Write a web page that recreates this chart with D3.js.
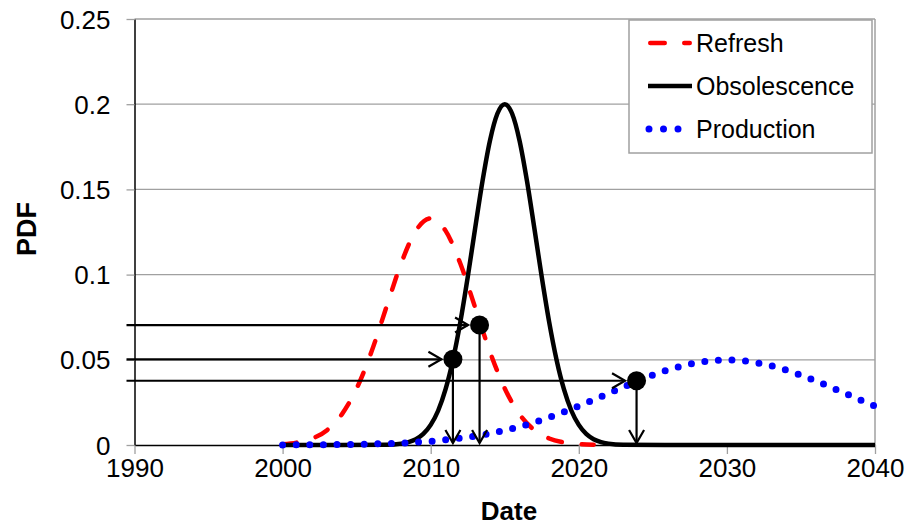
<!DOCTYPE html>
<html>
<head>
<meta charset="utf-8">
<script src="https://cdn.jsdelivr.net/npm/d3@7"></script>
<style>
  body { margin: 0; background: #fff; }
  svg { font-family: "Liberation Sans", Arial, sans-serif; }
</style>
</head>
<body>
<svg id="chart"></svg>
<script>
// ---- data ----
const xTicks = [1990, 2000, 2010, 2020, 2030, 2040];
const yTicks = [0, 0.05, 0.1, 0.15, 0.2, 0.25];

const refreshYears = [2000, 2001, 2002, 2003, 2004, 2005, 2006, 2007, 2008, 2009, 2010,
  2011, 2012, 2013, 2014, 2015, 2016, 2017, 2018, 2019, 2020, 2021];
const refreshPdf = [0.0005, 0.0015, 0.0038, 0.0087, 0.0180, 0.0332, 0.0547, 0.0807, 0.1065, 0.1258, 0.1330,
  0.1258, 0.1065, 0.0807, 0.0547, 0.0332, 0.0180, 0.0087, 0.0038, 0.0015, 0.0005, 0.0002];

const obsYears = [2000, 2004, 2007, 2008, 2008.5, 2009, 2009.5, 2010, 2010.5, 2011, 2011.5, 2012, 2012.5,
  2013, 2013.5, 2014, 2014.5, 2015, 2015.5, 2016, 2016.5, 2017, 2017.5, 2018, 2018.5,
  2019, 2019.5, 2020, 2020.5, 2021, 2021.5, 2022, 2023, 2026, 2030, 2035, 2040];
const obsPdf = [0, 0, 0.0001, 0.0008, 0.0017, 0.0034, 0.0065, 0.0118, 0.0201, 0.0326, 0.0499, 0.0721, 0.0985,
  0.1271, 0.1550, 0.1786, 0.1944, 0.2000, 0.1944, 0.1786, 0.1550, 0.1271, 0.0985, 0.0721, 0.0499,
  0.0326, 0.0201, 0.0118, 0.0065, 0.0034, 0.0017, 0.0008, 0.0001, 0, 0, 0, 0];

const prodYears = [2000, 2001, 2002, 2003, 2004, 2005, 2006, 2007, 2008, 2009, 2010,
  2011, 2012, 2013, 2014, 2015, 2016, 2017, 2018, 2019, 2020,
  2021, 2022, 2023, 2024, 2025, 2026, 2027, 2028, 2029, 2030,
  2031, 2032, 2033, 2034, 2035, 2036, 2037, 2038, 2039, 2040];
const prodPdf = [0.0000, 0.0001, 0.0001, 0.0002, 0.0003, 0.0004, 0.0006, 0.0008, 0.0011, 0.0016, 0.0022,
  0.0030, 0.0040, 0.0052, 0.0067, 0.0086, 0.0108, 0.0133, 0.0162, 0.0194, 0.0228,
  0.0265, 0.0302, 0.0340, 0.0376, 0.0410, 0.0440, 0.0465, 0.0483, 0.0495, 0.0499,
  0.0495, 0.0483, 0.0465, 0.0440, 0.0410, 0.0376, 0.0340, 0.0302, 0.0265, 0.0228];

// marked points with arrows to the axes
const pointDates = [2011.5, 2013.3, 2023.9];
const pointPdf = [0.0503, 0.0704, 0.0377];

const seriesNames = ['Refresh', 'Obsolescence', 'Production'];

// ---- layout ----
const width = 907, height = 527;
const margin = {top: 19, right: 32, bottom: 82, left: 134.5};
const innerW = width - margin.left - margin.right;
const innerH = height - margin.top - margin.bottom;

const svg = d3.select('#chart').attr('width', width).attr('height', height);
const chart = svg.append('g').attr('transform', `translate(${margin.left},${margin.top})`);

const x = d3.scaleLinear().domain([1990, 2040]).range([0, innerW]);
const y = d3.scaleLinear().domain([0, 0.25]).range([innerH, 0]);

// gridlines
chart.selectAll('.grid')
  .data(yTicks.filter(d => d > 0))
  .join('line')
  .attr('x1', 0).attr('x2', innerW)
  .attr('y1', d => y(d)).attr('y2', d => y(d))
  .attr('stroke', '#a0a0a0').attr('stroke-width', 1.3);

// right border
chart.append('line')
  .attr('x1', innerW).attr('x2', innerW).attr('y1', 0).attr('y2', innerH)
  .attr('stroke', '#a0a0a0').attr('stroke-width', 1.5);

// axes
const xAxis = d3.axisBottom(x).tickValues(xTicks).tickFormat(d3.format('d'))
  .tickSizeInner(9).tickSizeOuter(0).tickPadding(5);
const yAxis = d3.axisLeft(y).tickValues(yTicks).tickFormat(d => d === 0 ? '0' : String(d))
  .tickSizeInner(8).tickSizeOuter(0).tickPadding(16);

const xAxisG = chart.append('g').attr('transform', `translate(0,${innerH})`).call(xAxis);
const yAxisG = chart.append('g').call(yAxis);
[xAxisG, yAxisG].forEach(g => {
  g.attr('font-size', null).attr('font-family', null);
  g.select('.domain').attr('stroke', '#000').attr('stroke-width', 1.5);
  g.selectAll('.tick line').attr('stroke', '#a0a0a0').attr('stroke-width', 1.3);
  g.selectAll('.tick text').attr('fill', '#000').style('font-size', '26px');
});
yAxisG.selectAll('.tick text').attr('dy', '0.35em');

// axis titles
svg.append('text')
  .attr('x', 509).attr('y', 520)
  .attr('text-anchor', 'middle')
  .style('font-size', '26px').style('font-weight', 'bold')
  .text('Date');
svg.append('text')
  .attr('transform', 'translate(36,229) rotate(-90)')
  .attr('text-anchor', 'middle')
  .style('font-size', '27px').style('font-weight', 'bold')
  .text('PDF');

// curves
const toPoints = (xs, ys) => xs.map((d, i) => ({date: d, pdf: ys[i]}));
const line = d3.line().x(d => x(d.date)).y(d => y(d.pdf)).curve(d3.curveMonotoneX);

const seriesStyle = [
  {color: '#ff0000', width: 4.5, dash: '14 20', cap: 'round'},
  {color: '#000000', width: 4.5, dash: null, cap: 'butt'},
  {color: '#0000ff', width: 7, dash: '0 13.6', cap: 'round'}
];
const seriesData = [
  toPoints(refreshYears, refreshPdf),
  toPoints(obsYears, obsPdf),
  toPoints(prodYears, prodPdf)
];

seriesData.forEach((data, i) => {
  const s = seriesStyle[i];
  chart.append('path')
    .datum(data)
    .attr('d', line)
    .attr('fill', 'none')
    .attr('stroke', s.color)
    .attr('stroke-width', s.width)
    .attr('stroke-linecap', s.cap)
    .attr('stroke-dasharray', s.dash);
});

// arrow marker (open V)
const defs = svg.append('defs');
defs.append('marker')
  .attr('id', 'arrow')
  .attr('markerUnits', 'userSpaceOnUse')
  .attr('viewBox', '-15 -9 18 18')
  .attr('refX', 0).attr('refY', 0)
  .attr('markerWidth', 18).attr('markerHeight', 18)
  .attr('orient', 'auto')
  .append('path')
  .attr('d', 'M-13,-7.5 L0,0 L-13,7.5')
  .attr('fill', 'none').attr('stroke', '#000').attr('stroke-width', 2.2);

const pts = pointDates.map((d, i) => ({date: d, pdf: pointPdf[i]}));

// horizontal arrows from the y axis
chart.selectAll('.harrow')
  .data(pts)
  .join('line')
  .attr('x1', -8)
  .attr('x2', d => x(d.date) - 11.5)
  .attr('y1', d => y(d.pdf)).attr('y2', d => y(d.pdf))
  .attr('stroke', '#000').attr('stroke-width', 2.2)
  .attr('marker-end', 'url(#arrow)');

// vertical arrows down to the x axis
chart.selectAll('.varrow')
  .data(pts)
  .join('line')
  .attr('x1', d => x(d.date)).attr('x2', d => x(d.date))
  .attr('y1', d => y(d.pdf))
  .attr('y2', innerH - 2)
  .attr('stroke', '#000').attr('stroke-width', 2.2)
  .attr('marker-end', 'url(#arrow)');

chart.selectAll('.dot')
  .data(pts)
  .join('circle')
  .attr('cx', d => x(d.date)).attr('cy', d => y(d.pdf))
  .attr('r', 9.5)
  .attr('fill', '#000');

// legend
const legend = svg.append('g').attr('transform', 'translate(629,20)');
legend.append('rect')
  .attr('width', 243).attr('height', 133)
  .attr('fill', '#fff').attr('stroke', '#a0a0a0').attr('stroke-width', 1.5);
seriesNames.forEach((name, i) => {
  const s = seriesStyle[i];
  const ly = 23 + i * 43;
  const g = legend.append('g').attr('transform', `translate(0,${ly})`);
  let lx1 = 19, lx2 = 63, dash = s.dash;
  if (i === 0) { lx1 = 21.25; lx2 = 60.75; dash = '14.5 19.5'; }
  if (i === 2) { lx1 = 20; lx2 = 56; dash = '0 14.5'; }
  g.append('line')
    .attr('x1', lx1).attr('x2', lx2).attr('y1', 0).attr('y2', 0)
    .attr('stroke', s.color)
    .attr('stroke-width', i === 2 ? 7 : 4.5)
    .attr('stroke-linecap', s.cap)
    .attr('stroke-dasharray', dash);
  g.append('text')
    .attr('x', 67).attr('y', 0).attr('dy', '0.36em')
    .style('font-size', '25px')
    .text(name);
});
</script>
</body>
</html>
